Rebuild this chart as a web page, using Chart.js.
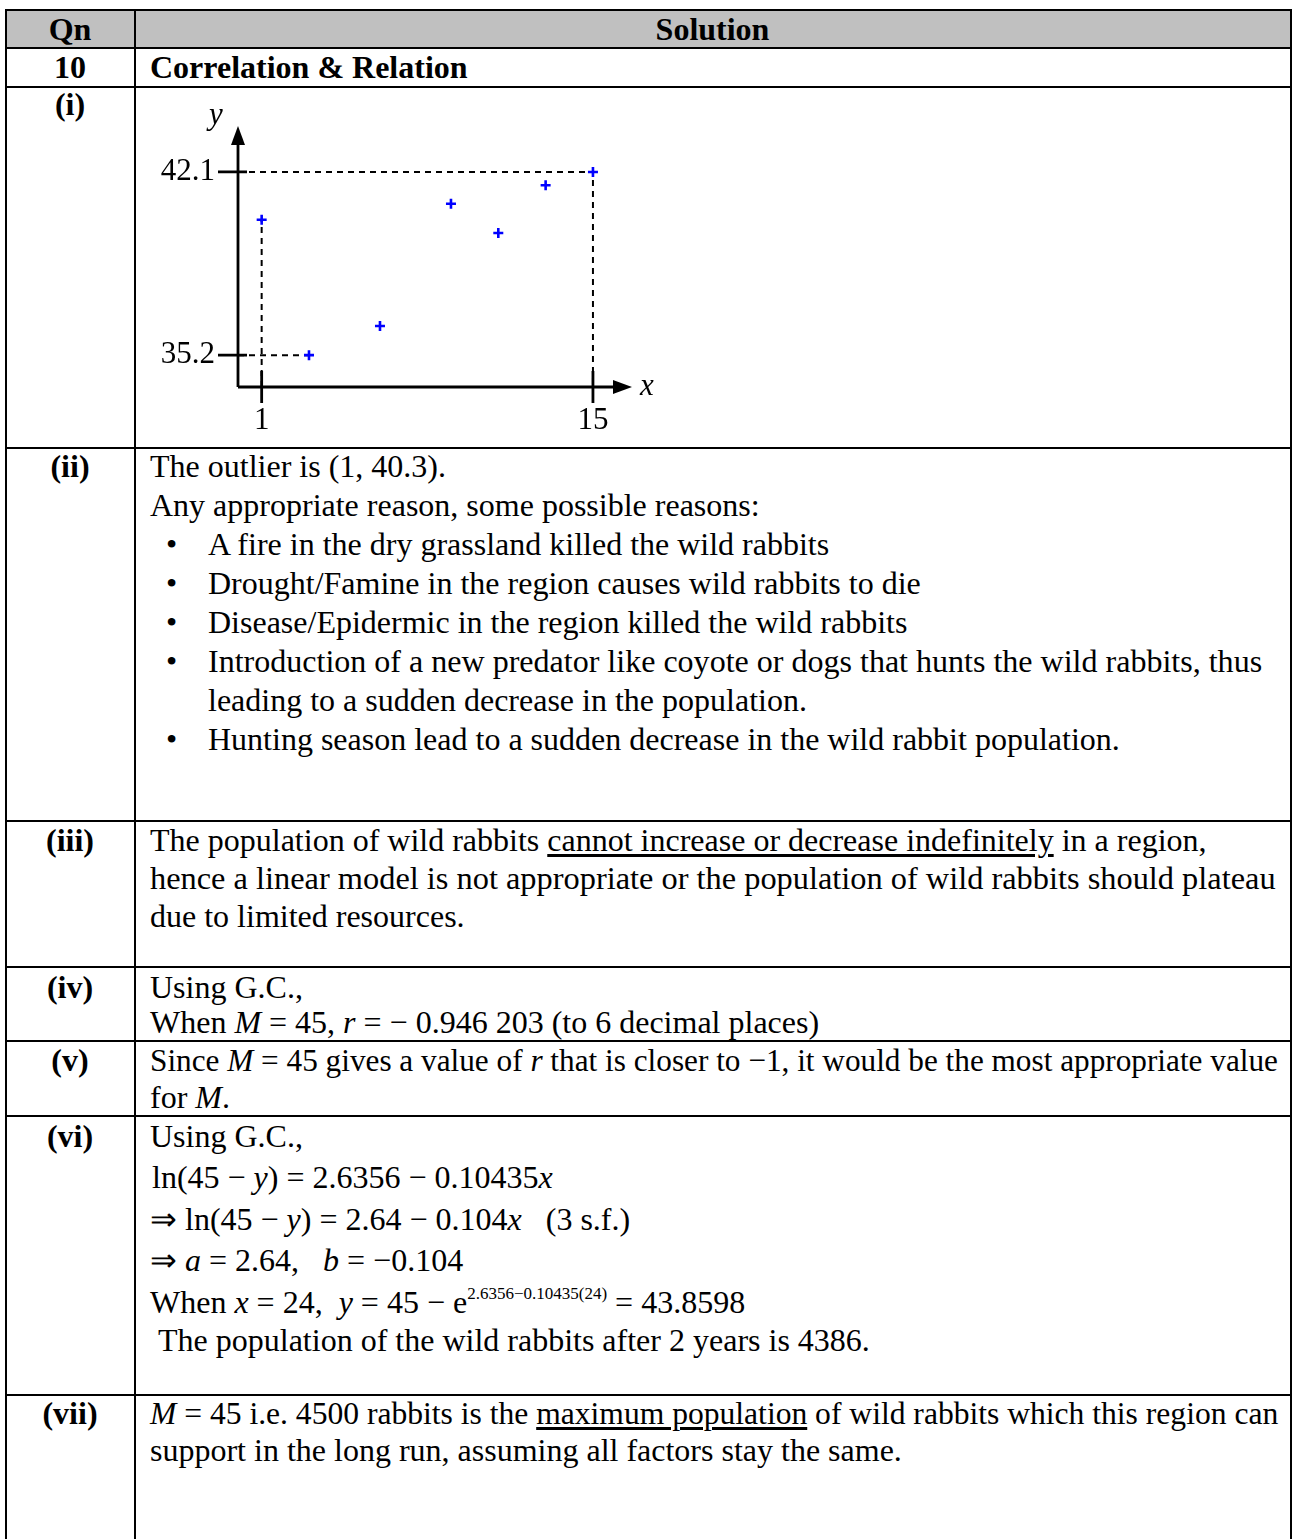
<!DOCTYPE html>
<html>
<head>
<meta charset="utf-8">
<script src="https://cdn.jsdelivr.net/npm/chart.js@4/dist/chart.umd.min.js"></script>
<style>
  html, body { margin: 0; padding: 0; background: #fff; }
  body { width: 1295px; height: 1539px; position: relative; overflow: hidden;
         font-family: "Liberation Serif", "Times New Roman", serif; font-size: 32px; color: #000; }
  .h { position: absolute; left: 5px; width: 1287px; height: 2px; background: #000; }
  .v { position: absolute; top: 9px; width: 2px; height: 1530px; background: #000; }
  .t { position: absolute; white-space: nowrap; line-height: 38px; height: 38px; transform-origin: 0 50%; }
  .q { position: absolute; left: 5px; width: 130px; text-align: center; font-weight: bold; line-height: 38px; }
  .b { font-weight: bold; }
  i { font-style: italic; }
  u { text-decoration: underline; text-underline-offset: 3px; }
  sup { font-size: 17px; vertical-align: 14px; line-height: 0; }
  #chartBox { position: absolute; left: 140px; top: 90px; width: 540px; height: 350px; }
</style>
</head>
<body>
<div style="position:absolute;left:5px;top:9px;width:1287px;height:39px;background:#c0c0c0"></div>
<div class="h" style="top:9px"></div>
<div class="h" style="top:47px"></div>
<div class="h" style="top:86px"></div>
<div class="h" style="top:447px"></div>
<div class="h" style="top:820px"></div>
<div class="h" style="top:966px"></div>
<div class="h" style="top:1040px"></div>
<div class="h" style="top:1115px"></div>
<div class="h" style="top:1394px"></div>
<div class="v" style="left:5px"></div>
<div class="v" style="left:134px"></div>
<div class="v" style="left:1290px"></div>

<div class="q" style="top:10px">Qn</div>
<div class="t b" style="top:10px;left:135px;width:1155px;text-align:center">Solution</div>
<div class="q" style="top:48px">10</div>
<div class="t b" style="top:48px;left:150px">Correlation &amp; Relation</div>

<div class="q" style="top:85px">(i)</div>
<div id="chartBox"><canvas id="scatterChart" width="540" height="350"></canvas></div>

<div class="q" style="top:447px">(ii)</div>
<div class="t" style="top:447px;left:150px">The outlier is (1, 40.3).</div>
<div class="t" style="top:486px;left:150px">Any appropriate reason, some possible reasons:</div>
<div class="t" style="top:525px;left:208px">A fire in the dry grassland killed the wild rabbits</div>
<div class="t" style="top:564px;left:208px">Drought/Famine in the region causes wild rabbits to die</div>
<div class="t" style="top:603px;left:208px">Disease/Epidermic in the region killed the wild rabbits</div>
<div class="t" style="top:642px;left:208px" data-right="1262">Introduction of a new predator like coyote or dogs that hunts the wild rabbits, thus</div>
<div class="t" style="top:681px;left:208px">leading to a sudden decrease in the population.</div>
<div class="t" style="top:720px;left:208px">Hunting season lead to a sudden decrease in the wild rabbit population.</div>
<div class="t" style="top:525px;left:166px">•</div>
<div class="t" style="top:564px;left:166px">•</div>
<div class="t" style="top:603px;left:166px">•</div>
<div class="t" style="top:642px;left:166px">•</div>
<div class="t" style="top:720px;left:166px">•</div>

<div class="q" style="top:821px">(iii)</div>
<div class="t" style="top:821px;left:150px">The population of wild rabbits <u>cannot increase or decrease indefinitely</u> in a region,</div>
<div class="t" style="top:859px;left:150px" data-right="1276">hence a linear model is not appropriate or the population of wild rabbits should plateau</div>
<div class="t" style="top:897px;left:150px">due to limited resources.</div>

<div class="q" style="top:968px">(iv)</div>
<div class="t" style="top:968px;left:150px">Using G.C.,</div>
<div class="t" style="top:1003px;left:150px">When <i>M</i> = 45, <i>r</i> = − 0.946 203 (to 6 decimal places)</div>

<div class="q" style="top:1041px">(v)</div>
<div class="t" style="top:1041px;left:150px" data-right="1278">Since <i>M</i> = 45 gives a value of <i>r</i> that is closer to −1, it would be the most appropriate value</div>
<div class="t" style="top:1078px;left:150px">for <i>M</i>.</div>

<div class="q" style="top:1117px">(vi)</div>
<div class="t" style="top:1117px;left:150px">Using G.C.,</div>
<div class="t" style="top:1158px;left:152px">ln(45 − <i>y</i>) = 2.6356 − 0.10435<i>x</i></div>
<div class="t" style="top:1200px;left:150px">⇒ ln(45 − <i>y</i>) = 2.64 − 0.104<i>x</i> &nbsp;&nbsp;(3 s.f.)</div>
<div class="t" style="top:1241px;left:150px">⇒ <i>a</i> = 2.64, &nbsp;&nbsp;<i>b</i> = −0.104</div>
<div class="t" style="top:1283px;left:150px">When <i>x</i> = 24, &nbsp;<i>y</i> = 45 − e<sup>2.6356−0.10435(24)</sup> = 43.8598</div>
<div class="t" style="top:1321px;left:158px">The population of the wild rabbits after 2 years is 4386.</div>

<div class="q" style="top:1394px">(vii)</div>
<div class="t" style="top:1394px;left:150px" data-right="1278"><i>M</i> = 45 i.e. 4500 rabbits is the <u>maximum population</u> of wild rabbits which this region can</div>
<div class="t" style="top:1431px;left:150px">support in the long run, assuming all factors stay the same.</div>

<script>
// 산점도 데이터 (x: 시간, y: 개체수)
const xValues = [1, 3, 6, 9, 11, 13, 15];
const yValues = [40.3, 35.2, 36.3, 40.9, 39.8, 41.6, 42.1];

// 축 눈금
const xTickValues = [1, 15];
const xTickLabels = ['1', '15'];
const yTickValues = [42.1, 35.2];
const yTickLabels = ['42.1', '35.2'];

// 축 범위
const xMin = 0, xMax = 16.65;
const yMin = 34, yMax = 43.83;

let scatterChart = null;

// 긴 줄은 셀 안에 맞게 가로로 줄임
document.querySelectorAll('[data-right]').forEach(function (el) {
    const avail = Number(el.dataset.right) - el.offsetLeft;
    const w = el.offsetWidth;
    if (w > 0) {
        el.style.transform = 'scaleX(' + (avail / w) + ')';
    }
});

function guide(points) {
    return {
        type: 'line',
        data: points,
        showLine: true,
        borderColor: '#000',
        borderWidth: 2,
        borderDash: [6, 5],
        pointRadius: 0,
        fill: false
    };
}

// 축, 화살표, 눈금, 라벨 그리기
const axesPlugin = {
    id: 'axesPlugin',
    beforeDatasetsDraw(chart) {
        const ctx = chart.ctx;
        const xs = chart.scales.x, ys = chart.scales.y;
        const ax = xs.getPixelForValue(xMin);
        const ay = ys.getPixelForValue(yMin);
        const top = ys.getPixelForValue(yMax);
        const right = xs.getPixelForValue(xMax);

        ctx.save();
        ctx.strokeStyle = '#000';
        ctx.fillStyle = '#000';
        ctx.lineWidth = 2.8;
        ctx.setLineDash([]);

        ctx.beginPath();
        ctx.moveTo(ax, ay);
        ctx.lineTo(ax, top + 16);
        ctx.moveTo(ax, ay);
        ctx.lineTo(right - 16, ay);
        ctx.stroke();

        ctx.beginPath();
        ctx.moveTo(ax, top);
        ctx.lineTo(ax - 7, top + 19);
        ctx.lineTo(ax + 7, top + 19);
        ctx.closePath();
        ctx.fill();

        ctx.beginPath();
        ctx.moveTo(right, ay);
        ctx.lineTo(right - 19, ay - 7);
        ctx.lineTo(right - 19, ay + 7);
        ctx.closePath();
        ctx.fill();

        ctx.beginPath();
        yTickValues.forEach(function (v) {
            const py = ys.getPixelForValue(v);
            ctx.moveTo(ax - 20, py);
            ctx.lineTo(ax + 9, py);
        });
        xTickValues.forEach(function (v) {
            const px = xs.getPixelForValue(v);
            ctx.moveTo(px, ay - 16);
            ctx.lineTo(px, ay + 16);
        });
        ctx.stroke();

        ctx.font = '31px "Liberation Serif", serif';
        ctx.textAlign = 'right';
        ctx.textBaseline = 'middle';
        yTickValues.forEach(function (v, i) {
            ctx.fillText(yTickLabels[i], ax - 23, ys.getPixelForValue(v));
        });
        ctx.textAlign = 'center';
        ctx.textBaseline = 'top';
        xTickValues.forEach(function (v, i) {
            ctx.fillText(xTickLabels[i], xs.getPixelForValue(v), ay + 18);
        });

        ctx.font = 'italic 31px "Liberation Serif", serif';
        ctx.textBaseline = 'middle';
        ctx.fillText('y', ax - 22, top - 10);
        ctx.textAlign = 'left';
        ctx.fillText('x', right + 8, ay);
        ctx.restore();
    }
};

function createScatterChart() {
    const ctx = document.getElementById('scatterChart').getContext('2d');
    if (scatterChart) {
        scatterChart.destroy();
    }

    const points = xValues.map((x, i) => ({ x: x, y: yValues[i] }));
    const last = xValues.length - 1;

    scatterChart = new Chart(ctx, {
        type: 'scatter',
        data: {
            datasets: [
                {
                    data: points,
                    pointStyle: 'cross',
                    pointRadius: 5,
                    borderWidth: 2.6,
                    borderColor: '#0000ff',
                    backgroundColor: '#0000ff'
                },
                // 이상치에서 x축까지
                guide([{ x: xValues[0], y: yMin }, { x: xValues[0], y: yValues[0] }]),
                // 최솟값 수평선
                guide([{ x: xMin, y: yValues[1] }, { x: xValues[1], y: yValues[1] }]),
                // 최댓값 수평선 + 수직선
                guide([{ x: xMin, y: yValues[last] }, { x: xValues[last], y: yValues[last] }, { x: xValues[last], y: yMin }])
            ]
        },
        options: {
            responsive: false,
            animation: false,
            devicePixelRatio: 1,
            layout: { padding: { left: 98, right: 48, top: 36, bottom: 53 } },
            plugins: { legend: { display: false }, tooltip: { enabled: false } },
            scales: {
                x: { type: 'linear', min: xMin, max: xMax, display: false },
                y: { type: 'linear', min: yMin, max: yMax, display: false }
            }
        },
        plugins: [axesPlugin]
    });
}

createScatterChart();
</script>
</body>
</html>
